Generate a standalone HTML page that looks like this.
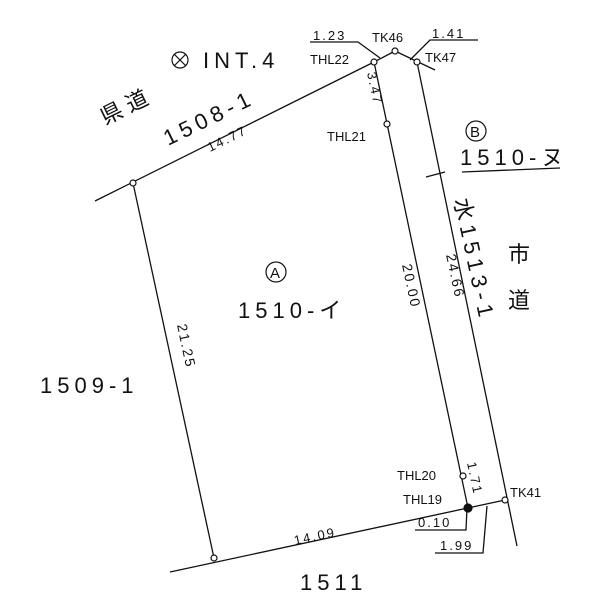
<!DOCTYPE html>
<html><head><meta charset="utf-8"><style>
html,body{margin:0;padding:0;background:#fff;}
svg{display:block;}
text{font-family:"Liberation Sans","Noto Sans CJK JP",sans-serif;fill:#111;}
.d{letter-spacing:2px;}
.b{letter-spacing:5px;}
</style></head><body>
<svg width="600" height="616" viewBox="0 0 600 616" xmlns="http://www.w3.org/2000/svg">
<g stroke="#111" stroke-width="1.3" fill="none">
<line x1="95" y1="201" x2="374" y2="62"/>
<line x1="374" y1="62" x2="395" y2="51"/>
<line x1="395" y1="51" x2="435" y2="70"/>
<line x1="133" y1="183" x2="214" y2="558"/>
<line x1="374" y1="62" x2="468" y2="508"/>
<line x1="417" y1="62" x2="517" y2="546"/>
<line x1="170" y1="572" x2="505" y2="500"/>
<polyline points="310,42 358,42 380,58"/>
<polyline points="478,40 430,40 410,60"/>
<polyline points="415,530 466,530 467,508"/>
<polyline points="435,553 483,553 487,506"/>
<line x1="426" y1="177" x2="445" y2="172"/>
<line x1="462" y1="172" x2="560" y2="168"/>
</g>
<g stroke="#111" stroke-width="1.2" fill="#fff">
<circle cx="374" cy="62" r="3"/><circle cx="395" cy="51" r="3"/><circle cx="417" cy="62" r="3"/>
<circle cx="387" cy="124" r="3"/><circle cx="133" cy="183" r="3"/><circle cx="214" cy="558" r="3"/>
<circle cx="463" cy="476" r="3"/><circle cx="505" cy="500" r="3"/>
<circle cx="468" cy="508" r="4" fill="#111"/>
</g>
<g font-size="13">
<text x="313" y="40" class="d">1.23</text>
<text x="372" y="42">TK46</text>
<text x="432" y="38" class="d">1.41</text>
<text x="310" y="64">THL22</text>
<text x="425" y="62">TK47</text>
<text x="327" y="141">THL21</text>
<text x="397" y="480">THL20</text>
<text x="403" y="504">THL19</text>
<text x="510" y="497">TK41</text>
<text x="418" y="527" class="d">0.10</text>
<text x="440" y="550" class="d">1.99</text>
<text class="d" transform="translate(367,73) rotate(78)">3.47</text>
<text class="d" font-size="14" transform="translate(402,265) rotate(78)">20.00</text>
<text class="d" font-size="14" transform="translate(446,255) rotate(78)">24.66</text>
<text class="d" font-size="14" transform="translate(177,325) rotate(78)">21.25</text>
<text class="d" transform="translate(210,152) rotate(-26)">14.77</text>
<text class="d" transform="translate(295,545) rotate(-12)">14.09</text>
<text class="d" transform="translate(467,463) rotate(78)">1.71</text>
</g>
<g font-size="22">
<text x="203" y="68" class="b">INT.4</text>
<text class="b" transform="translate(168,146) rotate(-26)">1508-1</text>
<text x="238" y="318" class="b">1510-イ</text>
<text x="40" y="393" class="b">1509-1</text>
<text x="300" y="590" class="b">1511</text>
<text x="460" y="165" class="b">1510-ヌ</text>
<text x="508" y="262">市</text>
<text x="508" y="308">道</text>
<text class="b" transform="translate(454,200) rotate(78)">水1513-1</text>
<text transform="translate(105,125) rotate(-26)">県 道</text>
</g>
<g stroke="#111" stroke-width="1.2" fill="none">
<circle cx="180" cy="60" r="8"/>
<line x1="174" y1="54" x2="186" y2="66"/><line x1="186" y1="54" x2="174" y2="66"/>
<circle cx="276" cy="272" r="10"/>
<circle cx="476" cy="131" r="10"/>
</g>
<text x="270" y="278" font-size="15">A</text>
<text x="470" y="137" font-size="15">B</text>
</svg>
</body></html>
